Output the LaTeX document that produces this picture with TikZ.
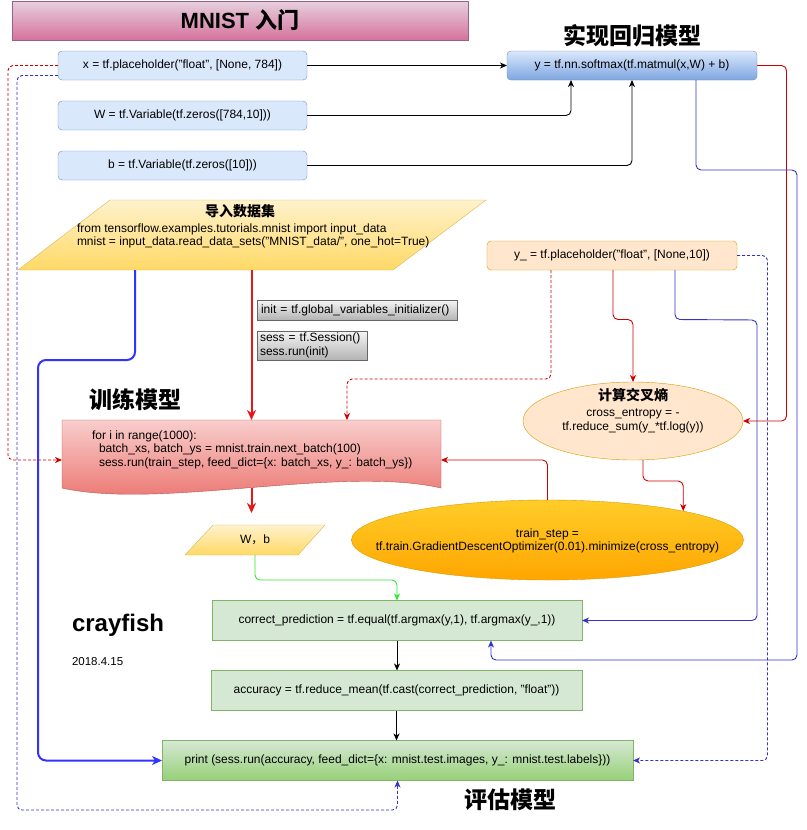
\documentclass[tikz,border=0pt]{standalone}
\usepackage{fontspec}
\setmainfont{Liberation Sans}
\newfontfamily\cjk{Noto Sans CJK SC}
\usetikzlibrary{arrows.meta,shapes.geometric,calc}
\definecolor{cTitleS}{HTML}{996185}
\definecolor{cTitleT}{HTML}{E6D0DE}
\definecolor{cTitleB}{HTML}{D5739D}
\definecolor{cBlueS}{HTML}{6C8EBF}
\definecolor{cBlueF}{HTML}{DAE8FC}
\definecolor{cBlueG}{HTML}{7EA6E0}
\definecolor{cYelS}{HTML}{D6B656}
\definecolor{cYelF}{HTML}{FFF2CC}
\definecolor{cYelG}{HTML}{FFD966}
\definecolor{cGrayS}{HTML}{666666}
\definecolor{cGrayF}{HTML}{F5F5F5}
\definecolor{cGrayG}{HTML}{B3B3B3}
\definecolor{cRedS}{HTML}{B85450}
\definecolor{cRedF}{HTML}{F8CECC}
\definecolor{cRedG}{HTML}{EA6B66}
\definecolor{cOrS}{HTML}{D79B00}
\definecolor{cOrF}{HTML}{FFE6CC}
\definecolor{cTsF}{HTML}{FFCD28}
\definecolor{cTsG}{HTML}{FFA500}
\definecolor{cGrS}{HTML}{82B366}
\definecolor{cGrF}{HTML}{D5E8D4}
\definecolor{cGrG}{HTML}{97D077}
\definecolor{cRedL}{HTML}{CC0000}
\definecolor{cRedK}{HTML}{E81818}
\definecolor{cBlueL}{HTML}{3333CC}
\definecolor{cBlueK}{HTML}{3333FF}
\definecolor{cGreen}{HTML}{33E633}
\begin{document}
\begin{tikzpicture}[x=1pt,y=1pt,
  >={Stealth[length=7pt,width=6pt,inset=2pt]},
  every node/.style={outer sep=0pt},
  code/.style={font=\fontsize{12pt}{13.5pt}\selectfont},
  txt/.style={inner sep=0pt},
  lbl/.style={font=\fontsize{23pt}{27pt}\selectfont\bfseries, inner sep=0pt},
  bbox/.style={code, draw=cBlueS, fill=cBlueF, rounded corners=4pt, minimum width=249pt, minimum height=29pt, inner sep=1pt},
  gbox/.style={code, draw=cGrayS, top color=cGrayF, bottom color=cGrayG, inner xsep=5pt, inner ysep=0pt, align=left},
  grbox/.style={code, draw=cGrS, fill=cGrF, minimum height=40pt, inner sep=1pt},
  ln/.style={line width=0.9pt, rounded corners=5pt, ->},
  blk/.style={ln, draw=black},
  redl/.style={ln, draw=cRedL},
  bluel/.style={ln, draw=cBlueL},
  grn/.style={ln, draw=cGreen},
  dsh/.style={dash pattern=on 3pt off 2pt},
  redk/.style={line width=2pt, draw=cRedK, ->, >={Stealth[length=10pt,width=9pt,inset=3pt]}},
  bluek/.style={line width=2pt, draw=cBlueK, rounded corners=8pt, ->, >={Stealth[length=10pt,width=9pt,inset=3pt]}}
]
\useasboundingbox (0,0) rectangle (806,-830);

% ---------- title and labels
\node[draw=cTitleS, top color=cTitleT, bottom color=cTitleB, minimum width=456pt, minimum height=39pt, font=\fontsize{22pt}{26pt}\selectfont\bfseries] (title) at (240,-20.5) {MNIST {\cjk 入门}};
\node[lbl] (lreg) at (632,-36) {\cjk 实现回归模型};
\node[lbl] (ltrain) at (135,-400) {\cjk 训练模型};
\node[lbl] (leval) at (510,-800) {\cjk 评估模型};
\node[font=\fontsize{24pt}{28pt}\selectfont\bfseries, anchor=west, inner sep=0pt] (cf) at (72,-625) {crayfish};
\node[font=\fontsize{11.5pt}{13pt}\selectfont, anchor=west, inner sep=0pt] (dt) at (72,-662) {2018.4.15};

% ---------- top boxes
\node[bbox] (xn) at (182.5,-65.5) {x = tf.placeholder("float", [None, 784])};
\node[bbox] (wn) at (182.5,-115.5) {W = tf.Variable(tf.zeros([784,10]))};
\node[bbox] (bn) at (182.5,-165.5) {b = tf.Variable(tf.zeros([10]))};
\node[bbox, top color=cBlueF, bottom color=cBlueG, minimum width=250pt] (yn) at (632,-65.5) {y = tf.nn.softmax(tf.matmul(x,W) + b)};

% ---------- import data
\path[draw=cYelS, top color=cYelF, bottom color=cYelG] (18,-270) -- (393,-270) -- (486,-200) -- (110,-200) -- cycle;
\node[minimum width=468pt, minimum height=70pt] (imp) at (252,-235) {};
\node[font=\fontsize{14pt}{16pt}\selectfont\bfseries, inner sep=0pt] (impt) at (240,-211) {\cjk 导入数据集};
\node[code, txt, align=left, anchor=west] (impc) at (77,-236) {from tensorflow.examples.tutorials.mnist import input\_data\\mnist = input\_data.read\_data\_sets("MNIST\_data/", one\_hot=True)};

% ---------- gray boxes
\node[gbox, minimum width=200pt, minimum height=20pt, text width=192pt, inner xsep=4pt] (g1) at (357,-310) {init = tf.global\_variables\_initializer()};
\node[gbox, minimum height=29pt, text width=104pt, inner xsep=3pt] (g2) at (312,-345.5) {sess = tf.Session()\\sess.run(init)};

% ---------- y_
\node[code, draw=cOrS, fill=cOrF, rounded corners=4pt, minimum width=250pt, minimum height=29pt, inner sep=1pt] (yu) at (612,-255.5) {y\_ = tf.placeholder("float", [None,10])};

% ---------- cross entropy
\node[ellipse, draw=cOrS, fill=cOrF, minimum width=220pt, minimum height=78pt, inner sep=0pt] (ce) at (633,-421) {};
\node[font=\fontsize{14pt}{16pt}\selectfont\bfseries, inner sep=0pt] (cet) at (633,-395) {\cjk 计算交叉熵};
\node[code, txt, align=center] (cec) at (633,-421) {cross\_entropy = -\\tf.reduce\_sum(y\_*tf.log(y))};

% ---------- train
\path[draw=cRedS, top color=cRedF, bottom color=cRedG] (62,-420) -- (441,-420) -- (441,-488) .. controls (340,-465) and (160,-510) .. (62,-488) -- cycle;
\node[minimum width=379pt, minimum height=80pt] (train) at (251.5,-460) {};
\node[code, txt, align=left, anchor=west] (traint) at (92,-449.5) {for i in range(1000):\\\hspace*{7pt}batch\_xs, batch\_ys = mnist.train.next\_batch(100)\\\hspace*{7pt}sess.run(train\_step, feed\_dict=\{x: batch\_xs, y\_: batch\_ys\})};

% ---------- W, b
\path[draw=cYelS, top color=cYelF, bottom color=cYelG] (185,-555) -- (298,-555) -- (325,-525) -- (213,-525) -- cycle;
\node[code, minimum width=140pt, minimum height=30pt] (wb) at (255,-540) {W{\cjk ，}b};

% ---------- train step
\node[ellipse, draw=cOrS, top color=cTsF, bottom color=cTsG, minimum width=392pt, minimum height=80pt, inner sep=0pt] (ts) at (547.5,-540) {};
\node[code, txt, align=center] (tst) at (547.5,-541) {train\_step =\\tf.train.GradientDescentOptimizer(0.01).minimize(cross\_entropy)};

% ---------- evaluation
\node[grbox, minimum width=370pt] (cp) at (397,-620.5) {correct\_prediction = tf.equal(tf.argmax(y,1), tf.argmax(y\_,1))};
\node[grbox, minimum width=371pt] (acc) at (396.5,-690.5) {accuracy = tf.reduce\_mean(tf.cast(correct\_prediction, "float"))};
\node[grbox, top color=cGrF, bottom color=cGrG, minimum width=471pt] (pr) at (397.5,-760.5) {print (sess.run(accuracy, feed\_dict=\{x: mnist.test.images, y\_: mnist.test.labels\}))};

% ---------- waypoints
\coordinate (rd) at (347,-379);
\coordinate (b1) at (757,-320);
\coordinate (b2) at (767.5,-255.5);
\coordinate (r1) at (786.5,-65.5);
\coordinate (b3) at (797,-170);
\coordinate (b4) at (491,-660);
\coordinate (r2) at (8,-65.5);
\coordinate (b5) at (17,-75.5);
\coordinate (b6) at (17,-810);
\coordinate (k1) at (38,-360);

% ---------- connectors
\draw[blk] (xn.east) -- (yn.west);
\draw[blk] (wn.east) -| ([xshift=-61pt]yn.south);
\draw[blk] (bn.east) -| (yn.south);

\draw[redk] (train.north |- imp.south) -- (train.north);
\draw[bluek] ([xshift=-117pt]imp.south) |- (k1) |- (pr.west);
\draw[redk] ([yshift=12pt]train.south) -- ([yshift=12pt]train.south |- wb.north);
\draw[grn] (wb.south) -- ++(0,-25) -| (cp.north);

\draw[redl] (ts.north) |- (train.east);
\draw[redl] ([xshift=10pt]ce.south) -- ++(0,-21) -| (ts.12);
\draw[redl, dsh] ([xshift=-61pt]yu.south) |- (rd) -- (rd |- train.north);
\draw[redl] ([xshift=1pt]yu.south) -- ++(0,-49.5) -| (ce.north);
\draw[bluel] ([xshift=63pt]yu.south) -- ++(0,-49.5) -- (b1) |- (cp.east);
\draw[bluel, dsh] (yu.east) -- (b2) |- (pr.east);
\draw[redl] (yn.east) -- (r1) |- (ce.east);
\draw[bluel] ([xshift=64pt]yn.south) |- (b3) |- (b4) -- ([xshift=94pt]cp.south);
\draw[redl, dsh] (xn.west) -- (r2) |- (train.west);
\draw[bluel, dsh] ([yshift=-10pt]xn.west) -- (b5) -- (b6) -| (pr.south);

\draw[blk] (cp.south) -- (cp.south |- acc.north);
\draw[blk] (acc.south) -- (acc.south |- pr.north);
\end{tikzpicture}
\end{document}
